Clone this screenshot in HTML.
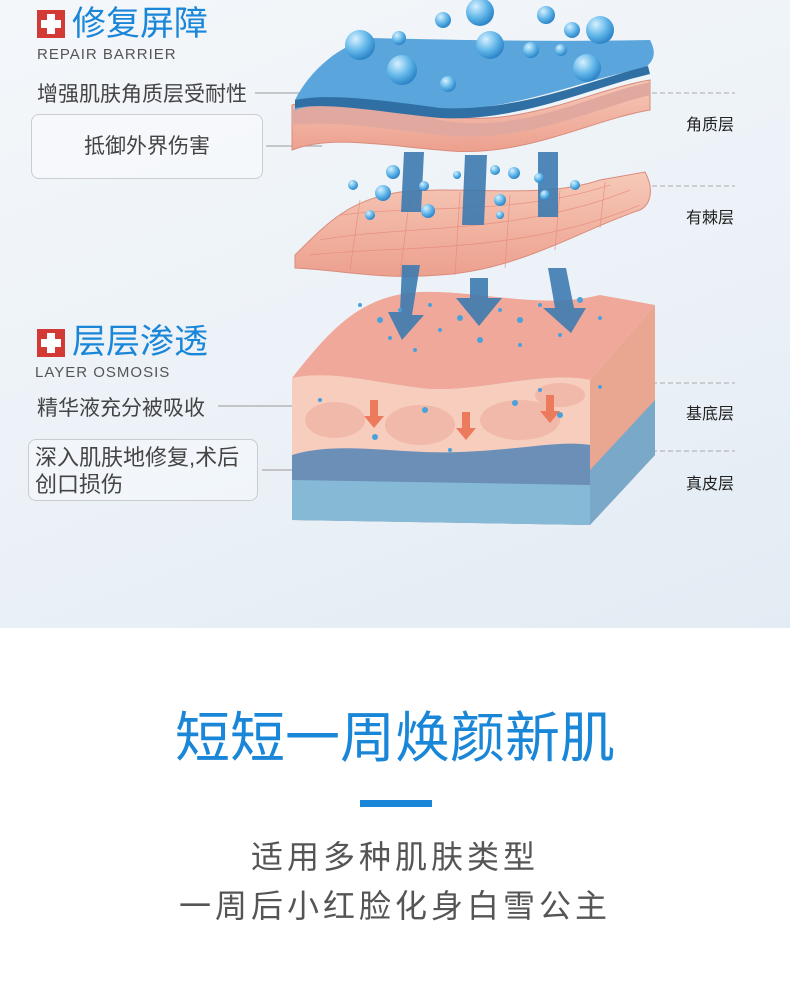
<!DOCTYPE html>
<html><head><meta charset="utf-8"><style>
*{margin:0;padding:0}
body{width:790px;height:995px;position:relative;background:#fff;font-family:"Liberation Sans","Noto Sans CJK SC",sans-serif;overflow:hidden}
.top{position:absolute;left:0;top:0;width:790px;height:628px;background:linear-gradient(160deg,#f4f7fa 0%,#eef3f8 40%,#e3ecf4 100%)}
.abs{position:absolute;white-space:nowrap}
.icon{position:absolute;width:28px;height:28px;background:#d33a36}
.icon:before{content:"";position:absolute;left:10px;top:4px;width:8px;height:20px;background:#fff}
.icon:after{content:"";position:absolute;left:4px;top:10px;width:20px;height:8px;background:#fff}
.h{color:#1a86d8;font-size:34px;line-height:38px}
.en{color:#555;font-size:15px;letter-spacing:1px}
.t{color:#444;font-size:21px}
.box{position:absolute;border:1.5px solid #c9ccd0;border-radius:8px;background:rgba(255,255,255,0.35);color:#444;font-size:21px}
.rl{color:#222;font-size:16px}
</style></head><body>
<div class="top"></div>
<svg class="abs" style="left:0;top:0" width="790" height="628">
<defs>
<linearGradient id="pk" x1="0" y1="0" x2="0" y2="1"><stop offset="0" stop-color="#f6c9b8"/><stop offset="1" stop-color="#eda08e"/></linearGradient>
<radialGradient id="bb" cx="0.35" cy="0.3" r="0.7"><stop offset="0" stop-color="#d6f0ff"/><stop offset="0.6" stop-color="#5fb5e8"/><stop offset="1" stop-color="#2e86c8"/></radialGradient>
</defs>
<g stroke="#aaa" stroke-width="1.2">
<line x1="255" y1="93" x2="322" y2="93"/><line x1="266" y1="146" x2="322" y2="146"/>
<line x1="218" y1="406" x2="322" y2="406"/><line x1="262" y1="470" x2="322" y2="470"/>
</g>
<g stroke="#aaa" stroke-width="1" stroke-dasharray="5,3">
<line x1="652" y1="93" x2="735" y2="93"/><line x1="652" y1="186" x2="735" y2="186"/>
<line x1="652" y1="383" x2="735" y2="383"/><line x1="652" y1="451" x2="735" y2="451"/>
</g>
<path d="M590 380 L655 305 L655 455 L590 525 Z" fill="#e9a691"/>
<path d="M590 470 L655 400 L655 455 L590 525 Z" fill="#7aa8c8"/>
<path d="M292 378 C330 330 360 295 420 292 C480 290 540 310 600 295 L655 305 L590 380 C540 370 470 395 420 388 C370 382 330 370 292 378 Z" fill="#f0a89a"/>
<path d="M292 378 C330 370 370 382 420 388 C470 395 540 370 590 380 L590 525 L292 520 Z" fill="#f7cdbd"/>
<path d="M292 455 C340 440 400 455 460 452 C520 450 560 440 590 445 L590 525 L292 520 Z" fill="#6b8fb6"/>
<path d="M292 480 L590 485 L590 525 L292 520 Z" fill="#86b9d6"/>
<g fill="#eeb1a1" opacity="0.7"><ellipse cx="335" cy="420" rx="30" ry="18"/><ellipse cx="420" cy="425" rx="35" ry="20"/><ellipse cx="520" cy="420" rx="40" ry="20"/><ellipse cx="560" cy="395" rx="25" ry="12"/></g>
<g fill="#ec7a5c"><path d="M370 400 h8 v16 h6 l-10 12 l-10 -12 h6 z"/><path d="M462 412 h8 v16 h6 l-10 12 l-10 -12 h6 z"/><path d="M546 395 h8 v16 h6 l-10 12 l-10 -12 h6 z"/></g>
<path d="M295 255 C330 220 350 200 400 192 C470 185 540 200 600 180 L645 172 C655 190 650 205 640 210 C580 230 520 270 440 275 C380 280 340 270 295 268 Z" fill="url(#pk)" stroke="#d98c7c" stroke-width="1"/>
<g stroke="#e88a7a" stroke-width="0.8" fill="none" opacity="0.8">
<path d="M320 240 C400 225 520 235 630 190"/><path d="M310 255 C400 245 520 255 640 205"/><path d="M340 215 C420 205 520 215 610 185"/>
<path d="M360 200 L350 270"/><path d="M410 195 L400 275"/><path d="M460 192 L455 275"/><path d="M510 195 L505 268"/><path d="M560 190 L555 250"/><path d="M605 182 L600 228"/>
</g>
<path d="M292 105 C330 95 380 100 440 115 C520 130 590 90 650 80 L650 110 C590 120 520 160 440 150 C380 145 330 135 292 150 Z" fill="url(#pk)" stroke="#d98c7c"/>
<path d="M292 110 C330 100 380 105 440 120 C520 135 590 95 650 82 L650 95 C590 110 520 145 440 135 C380 128 330 120 292 125 Z" fill="#e0a89e"/>
<path d="M295 100 C310 70 340 45 370 38 C450 40 560 42 650 40 C658 55 652 62 645 68 C580 80 520 110 440 110 C370 108 320 100 295 110 Z" fill="#5aa5dc"/>
<path d="M295 100 C330 93 380 100 440 108 C520 112 590 80 648 66 L650 74 C590 88 520 122 440 118 C380 112 330 102 295 108 Z" fill="#2f6fa4"/>
<g fill="#3d7bb0" opacity="0.9">
<path d="M404 152 h20 l-3 60 h-20 z"/><path d="M465 155 h22 l-3 70 h-22 z"/><path d="M538 152 h20 l0 65 h-20 z"/>
<path d="M402 265 h18 l-8 50 h12 l-22 25 l-14 -28 h12 z"/><path d="M470 278 h18 l0 20 h14 l-23 28 l-23 -28 h14 z"/><path d="M548 268 h18 l8 40 h12 l-15 25 l-28 -25 h12 z"/>
</g>
<g fill="url(#bb)">
<circle cx="360" cy="45" r="15"/><circle cx="480" cy="12" r="14"/><circle cx="443" cy="20" r="8"/><circle cx="546" cy="15" r="9"/><circle cx="572" cy="30" r="8"/><circle cx="600" cy="30" r="14"/>
<circle cx="399" cy="38" r="7"/><circle cx="490" cy="45" r="14"/><circle cx="531" cy="50" r="8"/><circle cx="402" cy="70" r="15"/><circle cx="587" cy="68" r="14"/><circle cx="448" cy="84" r="8"/><circle cx="561" cy="50" r="6"/>
<circle cx="393" cy="172" r="7"/><circle cx="424" cy="186" r="5"/><circle cx="353" cy="185" r="5"/><circle cx="383" cy="193" r="8"/><circle cx="428" cy="211" r="7"/><circle cx="370" cy="215" r="5"/><circle cx="514" cy="173" r="6"/><circle cx="539" cy="178" r="5"/><circle cx="575" cy="185" r="5"/><circle cx="495" cy="170" r="5"/><circle cx="457" cy="175" r="4"/><circle cx="500" cy="200" r="6"/><circle cx="545" cy="195" r="5"/><circle cx="500" cy="215" r="4"/>
</g>
<g fill="#4aa2dc">
<circle cx="380" cy="320" r="3"/><circle cx="400" cy="310" r="2"/><circle cx="430" cy="305" r="2"/><circle cx="460" cy="318" r="3"/><circle cx="500" cy="310" r="2"/><circle cx="520" cy="320" r="3"/><circle cx="540" cy="305" r="2"/><circle cx="580" cy="300" r="3"/><circle cx="600" cy="318" r="2"/><circle cx="440" cy="330" r="2"/><circle cx="480" cy="340" r="3"/><circle cx="520" cy="345" r="2"/><circle cx="560" cy="335" r="2"/><circle cx="390" cy="338" r="2"/><circle cx="360" cy="305" r="2"/><circle cx="415" cy="350" r="2"/><circle cx="375" cy="437" r="3"/><circle cx="425" cy="410" r="3"/><circle cx="560" cy="415" r="3"/><circle cx="450" cy="450" r="2"/><circle cx="515" cy="403" r="3"/><circle cx="540" cy="390" r="2"/><circle cx="320" cy="400" r="2"/><circle cx="600" cy="387" r="2"/>
</g>
</svg>
<div class="icon" style="left:37px;top:10px"></div>
<div class="abs h" style="left:72px;top:5px">修复屏障</div>
<div class="abs en" style="left:37px;top:46px">REPAIR BARRIER</div>
<div class="abs t" style="left:37px;top:78px">增强肌肤角质层受耐性</div>
<div class="box" style="left:31px;top:114px;width:230px;height:63px;line-height:63px;text-align:center">抵御外界伤害</div>
<div class="icon" style="left:37px;top:329px"></div>
<div class="abs h" style="left:72px;top:323px">层层渗透</div>
<div class="abs en" style="left:35px;top:364px">LAYER OSMOSIS</div>
<div class="abs t" style="left:37px;top:392px">精华液充分被吸收</div>
<div class="box" style="left:28px;top:439px;width:230px;height:62px;padding:0 0 0 6px;box-sizing:border-box;line-height:27px;padding-top:4px;font-size:22px">深入肌肤地修复,术后<br>创口损伤</div>
<div class="abs rl" style="left:686px;top:111px">角质层</div>
<div class="abs rl" style="left:686px;top:204px">有棘层</div>
<div class="abs rl" style="left:686px;top:400px">基底层</div>
<div class="abs rl" style="left:686px;top:470px">真皮层</div>
<div class="abs" style="left:0;width:790px;top:700px;text-align:center;color:#1a86d8;font-size:55px;line-height:76px">短短一周焕颜新肌</div>
<div class="abs" style="left:360px;top:800px;width:72px;height:7px;background:#1a86d8"></div>
<div class="abs" style="left:0;width:790px;top:833px;text-align:center;color:#555;font-size:32px;letter-spacing:4px;line-height:49px">适用多种肌肤类型<br>一周后小红脸化身白雪公主</div>
</body></html>
